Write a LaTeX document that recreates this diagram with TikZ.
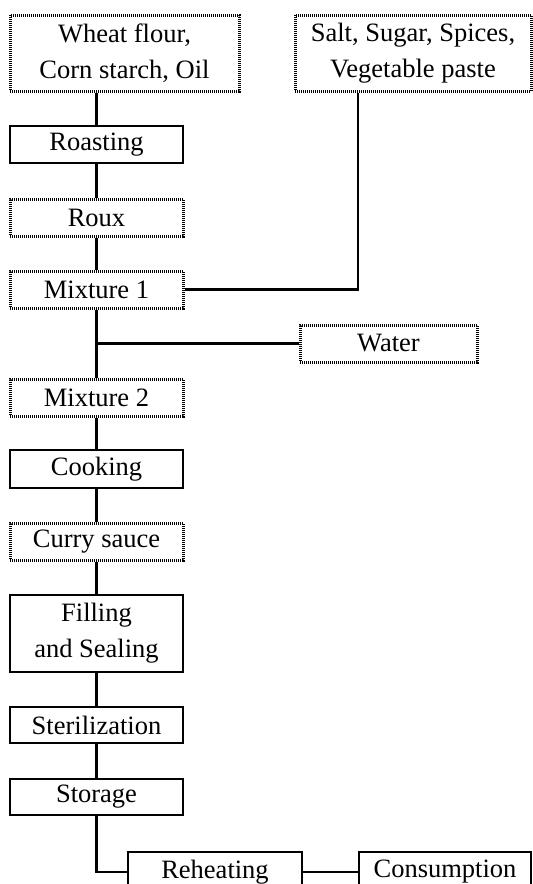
\documentclass[tikz,border=0pt]{standalone}
\usepackage{fontspec}
\setmainfont{Liberation Serif}
\begin{document}
\begin{tikzpicture}[x=1pt,y=-1pt,
  every node/.style={font=\fontsize{26.5}{36}\selectfont, inner sep=0pt, align=center},
  solidbox/.style={draw=black, line width=2.4pt, rectangle},
  hatchbox/.style={rectangle,
    preaction={draw=black!55, line width=3pt},
    draw=black, line width=3pt, dash pattern=on 1pt off 1pt},
  conn/.style={draw=black, line width=2.6pt}]
\useasboundingbox (0,0) rectangle (533,884);
\node[hatchbox, minimum width=229pt, minimum height=76pt] (wheat) at (124.5,53) {Wheat flour,\\Corn starch, Oil};
\node[hatchbox, minimum width=236pt, minimum height=76pt] (salt) at (413,53) {Salt, Sugar, Spices,\\Vegetable paste};
\node[solidbox, minimum width=173pt, minimum height=37pt] (roast) at (96.5,144.5) {Roasting};
\node[hatchbox, minimum width=173pt, minimum height=37pt] (roux) at (96.5,217.5) {Roux};
\node[hatchbox, minimum width=173pt, minimum height=37pt] (mix1) at (96.5,289.5) {Mixture 1};
\node[hatchbox, minimum width=177pt, minimum height=37pt] (water) at (388.5,343.5) {Water};
\node[hatchbox, minimum width=173pt, minimum height=37pt] (mix2) at (96.5,397.5) {Mixture 2};
\node[solidbox, minimum width=173pt, minimum height=38pt] (cook) at (96.5,469) {Cooking};
\node[hatchbox, minimum width=173pt, minimum height=37pt] (curry) at (96.5,541.5) {Curry sauce};
\node[solidbox, minimum width=173pt, minimum height=77pt] (fill) at (96.5,633.5) {Filling\\and Sealing};
\node[solidbox, minimum width=173pt, minimum height=36pt] (steril) at (96.5,725) {Sterilization};
\node[solidbox, minimum width=173pt, minimum height=36pt] (stor) at (96.5,797) {Storage};
\node[solidbox, minimum width=174pt, minimum height=40pt] (reheat) at (215,872) {Reheating};
\node[solidbox, minimum width=172pt, minimum height=40pt] (cons) at (445,872) {Consumption};
\coordinate (sj) at ([xshift=-55pt]salt.south);
\draw[conn] (wheat.south -| roast.north) -- (roast.north);
\draw[conn] (roast) -- (roux);
\draw[conn] (roux) -- (mix1);
\draw[conn] (mix1.east) -| (sj);
\draw[conn] (mix1) -- (mix2);
\draw[conn] (water.west) -- (water.west -| mix1.south);
\draw[conn] (mix2) -- (cook);
\draw[conn] (cook) -- (curry);
\draw[conn] (curry) -- (fill);
\draw[conn] (fill) -- (steril);
\draw[conn] (steril) -- (stor);
\draw[conn] (stor.south) |- (reheat.west);
\draw[conn] (reheat.east) -- (cons.west);
\end{tikzpicture}
\end{document}
